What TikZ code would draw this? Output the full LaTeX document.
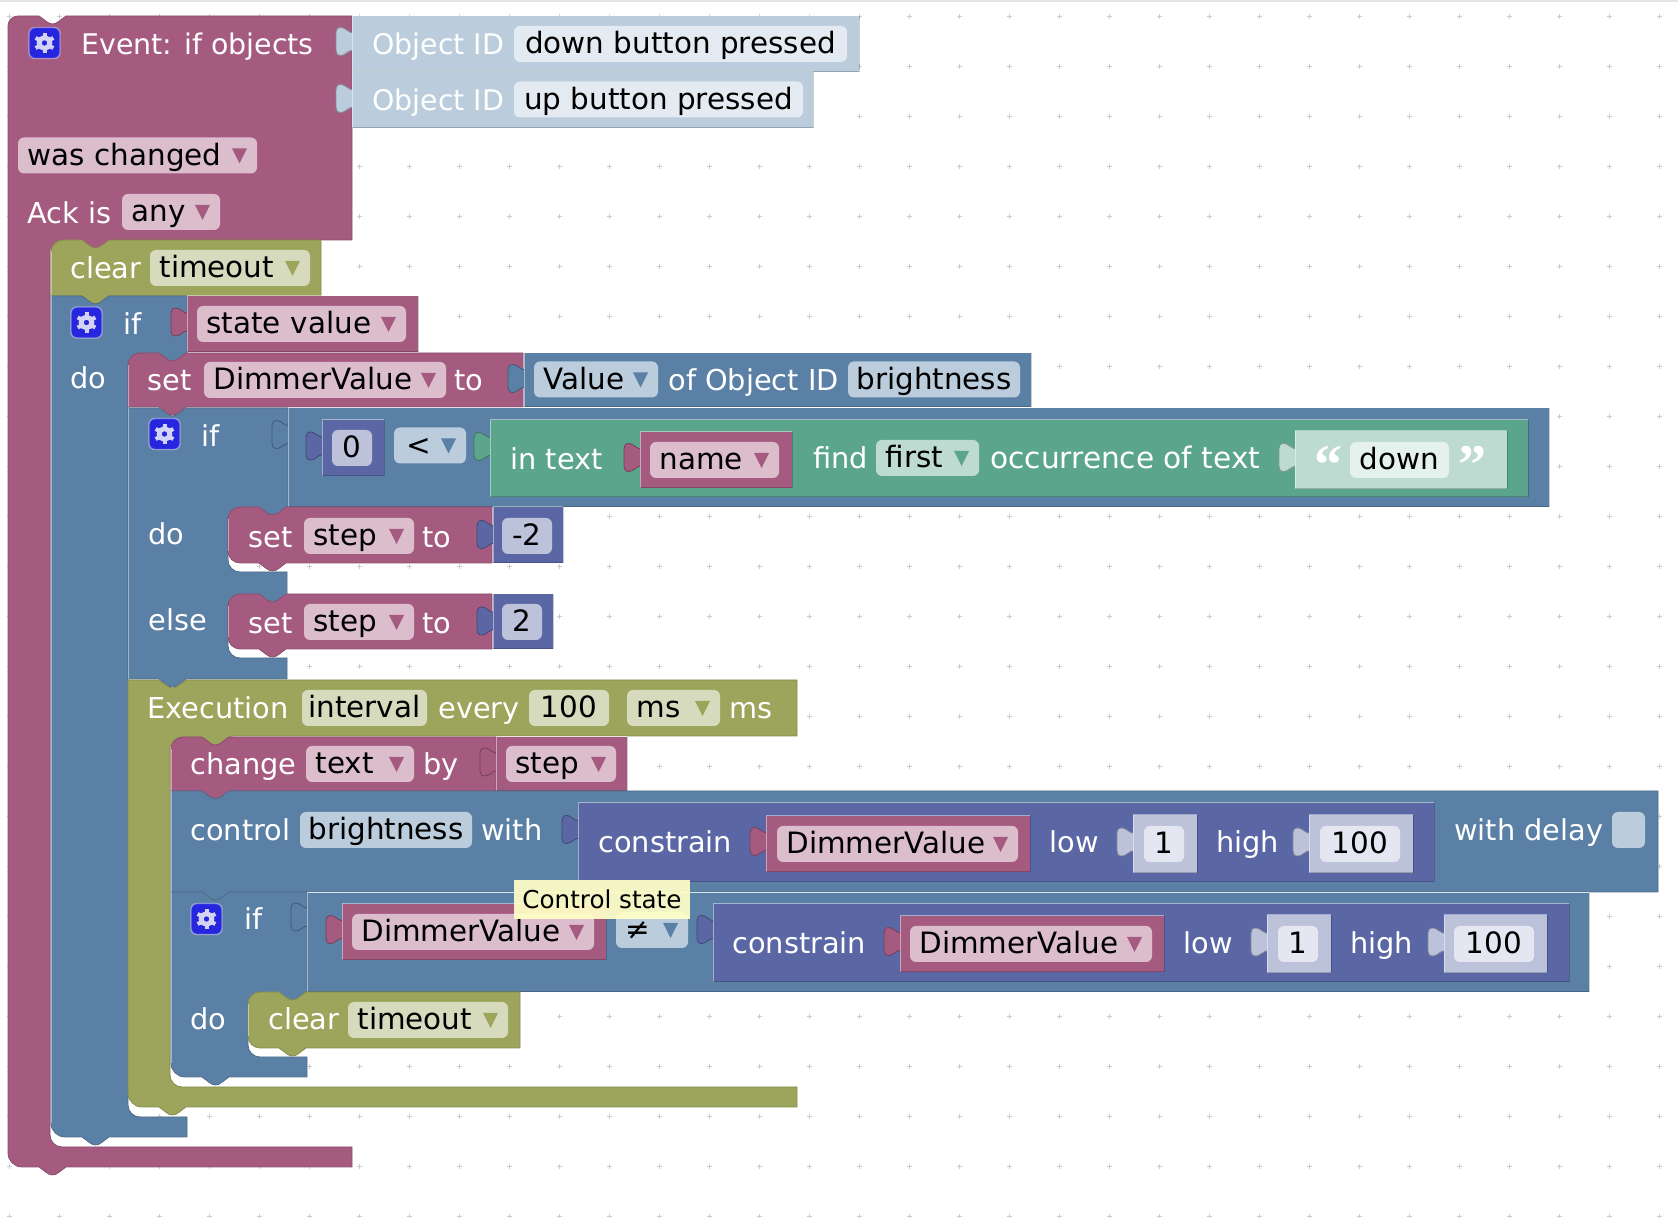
\documentclass[tikz,border=0pt]{standalone}
\usepackage{fontspec}
\setmainfont{DejaVu Sans}
\newfontfamily\quotefont{Liberation Serif}
\usetikzlibrary{positioning}

\definecolor{plum}{HTML}{A55B80}
\definecolor{steel}{HTML}{5B80A5}
\definecolor{olive}{HTML}{9CA55B}
\definecolor{teal}{HTML}{5BA58C}
\definecolor{indigo}{HTML}{5B67A5}
\definecolor{fplum}{HTML}{DBBDCC}
\definecolor{fsteel}{HTML}{BBCCDC}
\definecolor{folive}{HTML}{D7DBBD}
\definecolor{fteal}{HTML}{BDDBD1}
\definecolor{findigo}{HTML}{BDC2DB}
\definecolor{psteel}{HTML}{E4EAF1}
\definecolor{pteal}{HTML}{E4F1ED}
\definecolor{pindigo}{HTML}{E4E6F1}
\definecolor{gearblue}{HTML}{2626DE}
\definecolor{tipyellow}{HTML}{FFFFC7}

\tikzset{
  griddot/.style={draw=black!20,line width=0.5pt},
  lbl/.style={anchor=base west,inner sep=0pt,text=white,yshift=-0.7pt,xshift=-0.5pt,font=\fontsize{14.4}{17}\selectfont},
  fieldbox/.style={rounded corners=3pt,inner xsep=0pt,inner ysep=0pt,text=black,
    text height=14pt,text depth=4pt,font=\fontsize{14.7}{17}\selectfont},
  edgelight/.style={draw=white,draw opacity=0.45,line width=0.5pt},
  edgedark/.style={draw=black,draw opacity=0.2,line width=0.5pt},
  gearbox/.style={fill=gearblue,draw=white,draw opacity=0.4,line width=0.7pt,rounded corners=3pt,
    minimum size=15.5pt,inner sep=0pt},
  gearline/.style={draw=black!8!gearblue!20!white},
  tipbox/.style={fill=tipyellow,fill opacity=0.93,text opacity=1,anchor=center,inner sep=0pt,
    minimum width=88pt,minimum height=19.5pt,font=\fontsize{12.3}{15}\selectfont,text=black}
}

% notch along a top edge, tab under a bottom edge (x of block, y of edge)
\newcommand{\notch}[2]{-- (#1+31,#2) .. controls (#1+37,#2+4) and (#1+40,#2+8) .. (#1+44.5,#2+8) .. controls (#1+49,#2+8) and (#1+52,#2+4) .. (#1+58,#2)}
\newcommand{\tabback}[2]{-- (#1+58,#2) .. controls (#1+52,#2+4) and (#1+49,#2+8) .. (#1+44.5,#2+8) .. controls (#1+40,#2+8) and (#1+37,#2+4) .. (#1+31,#2)}
% rounded corner: start, corner, end
\newcommand{\crn}[6]{-- (#1,#2) .. controls ({(#1)+.55*((#3)-(#1))},{(#2)+.55*((#4)-(#2))}) and ({(#5)+.55*((#3)-(#5))},{(#6)+.55*((#4)-(#6))}) .. (#5,#6)}

\newcommand{\stmt}[6][0]{
  \filldraw[fill=#6,draw=#6!85!black,line width=0.4pt] (#2+12,#3) \notch{#2}{#3} -- (#4,#3) -- (#4,#5) \tabback{#2}{#5} \crn{#2+#1}{#5}{#2}{#5}{#2}{#5-#1} \crn{#2}{#3+12}{#2}{#3}{#2+12}{#3} -- cycle;
  \draw[edgelight] (#2,#3+12) -- (#2,#5-#1);
}
\newcommand{\valblock}[6]{
  \filldraw[fill=#6,draw=#6!70!black,line width=0.4pt] (#1+1,#5-8.5) .. controls (#1-4,#5-9) and (#1-7,#5-14) .. (#1-11,#5-14) .. controls (#1-14.5,#5-14) and (#1-16,#5-12) .. (#1-16,#5-9) -- (#1-16,#5+9) .. controls (#1-16,#5+12) and (#1-14.5,#5+14) .. (#1-11,#5+14) .. controls (#1-7,#5+14) and (#1-4,#5+9) .. (#1+1,#5+8.5) -- cycle;
  \fill[#6] (#1,#2) rectangle (#3,#4);
  \draw[edgelight] (#1,#4) -- (#1,#2) -- (#3,#2);
  \draw[edgedark] (#1,#4) -- (#3,#4) -- (#3,#2);
}
\newcommand{\field}[6]{
  \node[fieldbox,fill=#5,minimum width={(#3-#2)*0.5pt}] (#1) at ({(#2+#3)/2},#4) {#6};
}
\newcommand{\dropfield}[7]{
  \node[fieldbox,fill=#5,text width={(#3-#2-19)*0.5pt},inner xsep=4.75pt,align=left] (#1) at ({(#2+#3)/2},#4) {#7};
  \fill[#6] (#3-25,#4-7) -- (#3-10,#4-7) -- (#3-17.5,#4+8) -- cycle;
}
\newcommand{\gearicon}[3]{
  \node[gearbox] (#1) at (#2,#3) {};
  \draw[gearline,line width=2.4pt] (#1.center) circle [radius=2.7pt];
  \foreach \a in {30,90,...,330}
    \draw[gearline,line width=2pt] (#1.center) ++(\a:3.2pt) -- ++(\a:1.9pt);
}

\begin{document}
\begin{tikzpicture}[x=0.5pt,y=-0.5pt]
  \useasboundingbox (0,0) rectangle (1678,1218);
  \fill[black!10] (0,0) rectangle (1678,2);
  \foreach \px in {9,59,...,1659}
    \foreach \py in {17,67,...,1217}
      \draw[griddot] (\px-2.5,\py) -- (\px+2.5,\py) (\px,\py-2.5) -- (\px,\py+2.5);

  % event block
  \filldraw[fill=plum,draw=plum!85!black,line width=0.4pt] (18,16) \notch{8}{16} -- (352,16) -- (352,240) -- (110,240) -- (110,249) -- (50,249) \crn{50}{1135}{50}{1147}{62}{1147} -- (352,1147) -- (352,1167) \tabback{8}{1167} \crn{22}{1167}{8}{1167}{8}{1153} \crn{8}{26}{8}{16}{18}{16} -- cycle;
  \gearicon{gearevent}{44.5}{43}
  \node[lbl,font=\fontsize{14.2}{17}\selectfont] (eventlbl) at (82,53) {Event: if objects};
  \valblock{352}{16}{859}{72}{41.5}{fsteel}
  \node[lbl,font=\fontsize{14.2}{17}\selectfont] (objlbla) at (373,53) {Object ID};
  \field{objdown}{514}{847}{44}{psteel}{down button pressed}
  \valblock{352}{72}{813}{128}{98.5}{fsteel}
  \node[lbl,font=\fontsize{14.2}{17}\selectfont] (objlblb) at (373,109) {Object ID};
  \field{objup}{514}{803}{99.5}{psteel}{up button pressed}
  \dropfield{waschanged}{18}{257}{155.5}{fplum}{plum}{was changed}
  \node[lbl] (acklbl) at (28,222) {Ack is};
  \dropfield{ackany}{122}{220}{212}{fplum}{plum}{any}

  % clear timeout
  \stmt{51}{240}{321}{296}{olive}
  \node[lbl] (clearlbla) at (71,277) {clear};
  \dropfield{timeouta}{150}{310}{268}{folive}{olive}{timeout}

  % outer if
  \filldraw[fill=steel,draw=steel!85!black,line width=0.4pt] (51,296) \notch{51}{296} -- (187,296) -- (187,362) -- (128,362) \crn{128}{1105}{128}{1117}{140}{1117} -- (187,1117) -- (187,1137) \tabback{51}{1137} \crn{65}{1137}{51}{1137}{51}{1123} -- cycle;
  \draw[edgelight] (51,296) -- (51,1123);
  \gearicon{gearif}{86.5}{322.5}
  \node[lbl] (iflbla) at (124,333) {if};
  \node[lbl] (dolbla) at (71,387) {do};
  \valblock{187}{296}{418}{352}{322}{plum}
  \dropfield{statevalue}{197}{406}{324}{fplum}{plum}{state value}

  % set DimmerValue
  \stmt{128}{353}{523}{407}{plum}
  \node[lbl] (setlbla) at (148,389) {set};
  \dropfield{dimmera}{204}{446}{380}{fplum}{plum}{DimmerValue}
  \node[lbl] (tolbla) at (455,389) {to};
  \valblock{524}{353}{1031}{407}{378.5}{steel}
  \dropfield{valuefield}{534}{658}{379.5}{fsteel}{steel}{Value}
  \node[lbl] (oflbl) at (669,389) {of Object ID};
  \field{brighta}{848}{1020}{379.5}{fsteel}{brightness}

  % inner if
  \filldraw[fill=steel,draw=steel!85!black,line width=0.4pt] (128,408) \notch{128}{408} -- (288,408) -- (288,516) -- (228,516) \crn{228}{560}{228}{572}{240}{572} -- (287,572) -- (287,603) -- (228,603) \crn{228}{646}{228}{658}{240}{658} -- (287,658) -- (287,679) \tabback{128}{679} -- (128,679) -- cycle;
  \draw[edgelight] (128,408) -- (128,679);
  \gearicon{gearifb}{164.5}{434}
  \node[lbl] (iflblb) at (202,445) {if};
  \node[lbl] (dolblb) at (149,543) {do};
  \node[lbl] (elselbl) at (149,629) {else};
  \valblock{288}{408}{1549}{507}{434.5}{steel}
  \valblock{322}{420}{384}{476}{446}{indigo}
  \field{zerofield}{332}{372}{448}{findigo}{0}
  \dropfield{lessfield}{394}{466}{445.5}{fsteel}{steel}{\hspace{1.5pt}<}
  \valblock{490}{420}{1528}{497}{446.5}{teal}
  \node[lbl] (intextlbl) at (511,468) {in text};
  \valblock{640}{432}{792}{488}{457.5}{plum}
  \dropfield{namefield}{650}{779}{460}{fplum}{plum}{name}
  \node[lbl] (findlbl) at (814,467) {find};
  \dropfield{firstfield}{876}{979}{458}{fteal}{teal}{first}
  \node[lbl,font=\fontsize{14.8}{17}\selectfont] (occurlbl) at (991,467) {occurrence of text};
  \valblock{1295}{431}{1507}{489}{457.5}{fteal}
  \node[lbl,font=\quotefont\bfseries\fontsize{28}{28}\selectfont] (quoteopen) at (1315,482) {“};
  \field{downfield}{1350}{1449}{460}{pteal}{down}
  \node[lbl,font=\quotefont\bfseries\fontsize{28}{28}\selectfont] (quoteclose) at (1459,482) {”};

  % set step
  \stmt[12]{228}{507}{492}{563}{plum}
  \node[lbl] (setlblb) at (249,546) {set};
  \dropfield{stepa}{304}{414}{536}{fplum}{plum}{step}
  \node[lbl] (tolblb) at (423,546) {to};
  \valblock{493}{507}{563}{563}{534.5}{indigo}
  \field{minustwo}{502}{552}{536}{findigo}{-2}
  \stmt[12]{228}{594}{492}{649}{plum}
  \node[lbl] (setlblc) at (249,632) {set};
  \dropfield{stepb}{304}{414}{622}{fplum}{plum}{step}
  \node[lbl] (tolblc) at (423,632) {to};
  \valblock{493}{594}{553}{649}{621}{indigo}
  \field{plustwo}{502}{542}{622}{findigo}{2}

  % execution
  \filldraw[fill=olive,draw=olive!85!black,line width=0.4pt] (128,680) \notch{128}{680} -- (797,680) -- (797,736) -- (232,736) -- (232,746) -- (170,746) \crn{170}{1075}{170}{1087}{182}{1087} -- (797,1087) -- (797,1107) \tabback{128}{1107} \crn{142}{1107}{128}{1107}{128}{1093} -- cycle;
  \node[lbl] (execlbl) at (148,717) {Execution};
  \field{intervalfield}{302}{427}{708}{folive}{interval}
  \node[lbl] (everylbl) at (439,717) {every};
  \field{hundred}{529}{609}{708}{folive}{100}
  \dropfield{msfield}{627}{720}{708}{folive}{olive}{ms}
  \node[lbl] (mslbl) at (730,717) {ms};

  % change text
  \stmt{171}{737}{496}{791}{plum}
  \node[lbl] (changelbl) at (191,773) {change};
  \dropfield{textfield}{306}{414}{764}{fplum}{plum}{text}
  \node[lbl] (bylbl) at (424,773) {by};
  \valblock{496}{737}{627}{791}{762}{plum}
  \dropfield{stepc}{506}{616}{764}{fplum}{plum}{step}

  % control brightness
  \filldraw[fill=steel,draw=steel!85!black,line width=0.4pt] (171,791) \notch{171}{791} -- (1658,791) -- (1658,892) \tabback{171}{892} -- (171,892) -- cycle;
  \draw[edgelight] (171,791) -- (171,892);
  \node[lbl] (controllbl) at (191,839) {control};
  \field{brightb}{300}{472}{830}{fsteel}{brightness}
  \node[lbl] (withlbl) at (482,839) {with};
  \valblock{578}{803}{1434}{882}{829.5}{indigo}
  \node[lbl] (constrainlbla) at (599,851) {constrain};
  \valblock{766}{816}{1030}{872}{841.5}{plum}
  \dropfield{dimmerb}{777}{1018}{844}{fplum}{plum}{DimmerValue}
  \node[lbl] (lowlbla) at (1050,851) {low};
  \valblock{1133}{815}{1197}{873}{842}{findigo}
  \field{lowa}{1144}{1184}{844}{pindigo}{1}
  \node[lbl] (highlbla) at (1217,851) {high};
  \valblock{1309}{815}{1413}{873}{842}{findigo}
  \field{higha}{1320}{1400}{844}{pindigo}{100}
  \node[lbl] (delaylbl) at (1455,839) {with delay};
  \field{delaybox}{1612}{1645}{830}{fsteel}{}

  % last if
  \filldraw[fill=steel,draw=steel!85!black,line width=0.4pt] (171,892) \notch{171}{892} -- (307,892) -- (307,1001) -- (248,1001) \crn{248}{1045}{248}{1057}{260}{1057} -- (307,1057) -- (307,1077) \tabback{171}{1077} \crn{185}{1077}{171}{1077}{171}{1063} -- cycle;
  \draw[edgelight] (171,892) -- (171,1063);
  \gearicon{gearifc}{206.5}{919}
  \node[lbl] (iflblc) at (245,928) {if};
  \node[lbl] (dolblc) at (191,1028) {do};
  \valblock{307}{893}{1589}{992}{917}{steel}
  \valblock{342}{904}{606}{960}{929.5}{plum}
  \dropfield{dimmerc}{352}{594}{932}{fplum}{plum}{DimmerValue}
  \dropfield{notequal}{616}{688}{930}{fsteel}{steel}{≠}
  \valblock{713}{904}{1569}{982}{929.5}{indigo}
  \node[lbl] (constrainlblb) at (733,952) {constrain};
  \valblock{900}{916}{1164}{972}{941.5}{plum}
  \dropfield{dimmerd}{910}{1152}{944}{fplum}{plum}{DimmerValue}
  \node[lbl] (lowlblb) at (1184,952) {low};
  \valblock{1267}{915}{1331}{973}{942}{findigo}
  \field{lowb}{1278}{1318}{944}{pindigo}{1}
  \node[lbl] (highlblb) at (1351,952) {high};
  \valblock{1444}{915}{1547}{973}{942}{findigo}
  \field{highb}{1454}{1534}{944}{pindigo}{100}
  \stmt[12]{248}{992}{520}{1048}{olive}
  \node[lbl] (clearlblb) at (269,1028) {clear};
  \dropfield{timeoutb}{348}{508}{1020}{folive}{olive}{timeout}

  \node[tipbox] (controltip) at (602,899.5) {Control state};
\end{tikzpicture}
\end{document}
